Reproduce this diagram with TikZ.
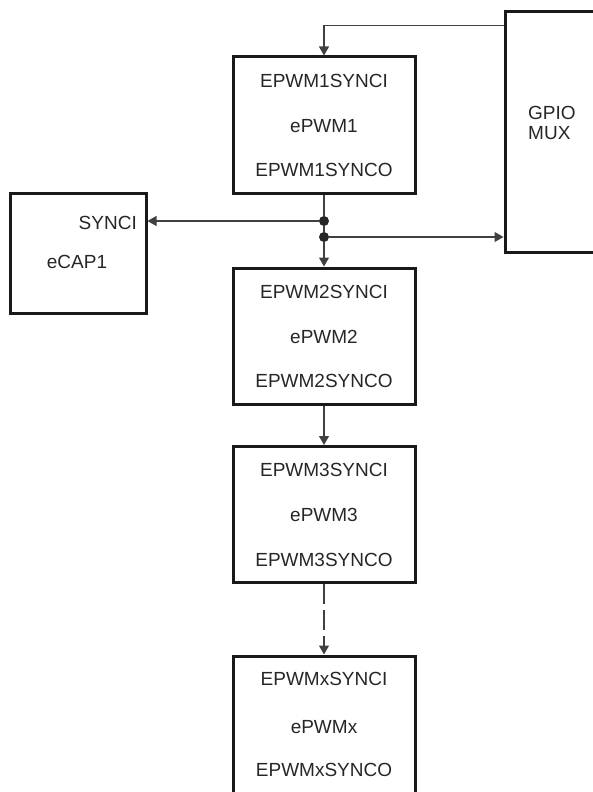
\documentclass[tikz,border=0pt]{standalone}
\usepackage{fontspec}
\setmainfont{Liberation Sans}
\usetikzlibrary{arrows.meta}
\begin{document}
\begin{tikzpicture}[x=1pt,y=-1pt,
  blk/.style={draw=black!90, line width=3pt, minimum width=182pt, minimum height=136pt, inner sep=0pt},
  lbl/.style={inner sep=0pt, text=black!85, font=\fontsize{19}{22}\selectfont},
  conn/.style={draw=black!75, line width=1.1pt},
  arr/.style={conn, -{Triangle[length=9pt,width=10pt]}},
  dot/.style={circle, fill=black!85, minimum size=10pt, inner sep=0pt}]
\useasboundingbox (0,0) rectangle (593,792);
\clip (0,0) rectangle (593,792);
% GPIO MUX
\node[blk, minimum width=100pt, minimum height=240pt] (gpio) at (555,132) {};
\node[lbl, align=left, anchor=west, font=\fontsize{19}{20}\selectfont] (gpiot) at (528,123) {GPIO\\MUX};
% ePWM1
\node[blk] (p1) at (324,125) {};
\node[lbl] (p1i) at (324,81) {EPWM1SYNCI};
\node[lbl] (p1n) at (324,126) {ePWM1};
\node[lbl] (p1o) at (324,170) {EPWM1SYNCO};
% eCAP1
\node[blk, minimum width=136pt, minimum height=120pt] (ecap) at (78,253) {};
\node[lbl, anchor=east] (ecaps) at (137,223) {SYNCI};
\node[lbl] (ecapn) at (77,262) {eCAP1};
% ePWM2
\node[blk] (p2) at (324,336) {};
\node[lbl] (p2i) at (324,292) {EPWM2SYNCI};
\node[lbl] (p2n) at (324,337) {ePWM2};
\node[lbl] (p2o) at (324,381) {EPWM2SYNCO};
% ePWM3
\node[blk] (p3) at (324,514.5) {};
\node[lbl] (p3i) at (324,470) {EPWM3SYNCI};
\node[lbl] (p3n) at (324,515) {ePWM3};
\node[lbl] (p3o) at (324,560) {EPWM3SYNCO};
% ePWMx
\node[blk, minimum height=145pt] (px) at (324,728.5) {};
\node[lbl] (pxi) at (324,679) {EPWMxSYNCI};
\node[lbl] (pxn) at (324,727) {ePWMx};
\node[lbl] (pxo) at (324,770) {EPWMxSYNCO};
% junction dots
\node[dot] (d1) at (324,221) {};
\node[dot] (d2) at (324,237) {};
% connectors
\draw[arr] ([yshift=-15pt]gpio.north west) -| (p1.north);
\draw[conn] (p1.south) -- (d1);
\draw[conn] (d1) -- (d2);
\draw[arr] (d2) -- (p2.north);
\draw[arr] (d1) -- (d1 -| ecap.east);
\draw[arr] (d2) -- (d2 -| gpio.west);
\draw[arr] (p2.south) -- (p3.north);
\draw[arr, dash pattern=on 20pt off 6pt] (p3.south) -- (px.north);
\end{tikzpicture}
\end{document}
